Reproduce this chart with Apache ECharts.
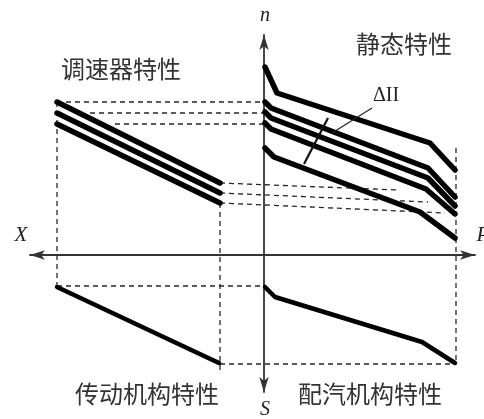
<!DOCTYPE html>
<html>
<head>
<meta charset="utf-8">
<script src="https://cdn.jsdelivr.net/npm/echarts@6/dist/echarts.min.js"></script>
<style>
  html, body { margin: 0; padding: 0; background: #fff; }
  #chart { width: 484px; height: 419px; }
</style>
</head>
<body>
<div id="chart"></div>
<script>
// Schematic units: origin at the crossing of the X-P and n-S axes.
// Quadrant II: governor characteristic (speed n against lever travel X)
const governorLines = [
  [[-207, 153], [-44, 72]],
  [[-207, 142], [-44, 62]],
  [[-207, 131], [-44, 52]]
];
// Quadrant I: static characteristic (speed n against power P)
const staticCurves = [
  [[1, 188], [13, 162], [166, 112], [191, 85]],
  [[1, 153], [7, 147], [164, 87], [191, 58]],
  [[1, 143], [7, 137], [164, 77], [191, 49]],
  [[1, 132], [7, 126], [162, 66], [191, 41]],
  [[1, 107], [10, 98], [156, 43], [191, 17]]
];
// Quadrant III: transmission mechanism characteristic (X against S)
const transmissionLine = [[-207, -32], [-45, -108]];
// Quadrant IV: steam distribution characteristic (S against P)
const valveCurve = [[1, -32], [11, -42], [158, -87], [191, -108]];

// Projection lines between the quadrants
const upperGuides = [
  [[-207, 153], [0, 153]],
  [[-174, 142], [0, 142]],
  [[-149, 131], [0, 131]]
];
const crossGuides = [
  [[-44, 72], [134, 65]],
  [[-44, 62], [164, 53]],
  [[-44, 52], [181, 42]]
];
const verticalGuides = [
  [[-207, 153], [-207, -32]],
  [[-44, 52], [-44, -117]],
  [[192, 107], [192, -109]]
];
const lowerGuides = [
  [[-207, -31], [0, -31]],
  [[-44, -109], [192, -109]]
];
// Speed-droop band marker and its leader
const deltaMarker = [[64, 137], [40, 91]];
const deltaLeader = [[68, 122], [108, 147]];

const axisRangeX = [-234, 211];
const axisRangeY = [-137, 220];

const cjkFont = '"Noto Sans CJK SC", "Noto Sans CJK JP", sans-serif';
const serifFont = '"Liberation Serif", "DejaVu Serif", serif';

function lineSeries(points, style, z) {
  return {
    type: 'line',
    data: points,
    showSymbol: false,
    symbol: 'none',
    silent: true,
    animation: false,
    z: z,
    lineStyle: style
  };
}

const dashStyle = { color: '#262626', width: 1.3, type: [5, 4] };
const thickStyle = { color: '#000', width: 5.5, join: 'round', cap: 'round' };

const series = [];
upperGuides.concat(crossGuides, verticalGuides, lowerGuides)
  .forEach(p => series.push(lineSeries(p, dashStyle, 2)));
governorLines.forEach(p => series.push(lineSeries(p, thickStyle, 5)));
staticCurves.forEach(p => series.push(lineSeries(p, thickStyle, 5)));
series.push(lineSeries(transmissionLine, Object.assign({}, thickStyle, { width: 4.5 }), 5));
series.push(lineSeries(valveCurve, Object.assign({}, thickStyle, { width: 4.5 }), 5));
series.push(lineSeries(deltaMarker, { color: '#111', width: 2.2 }, 6));
series.push(lineSeries(deltaLeader, { color: '#222', width: 1.2 }, 6));

const axisCommon = {
  type: 'value',
  axisTick: { show: false },
  axisLabel: { show: false },
  splitLine: { show: false },
  axisLine: {
    show: true,
    onZero: true,
    symbol: ['arrow', 'arrow'],
    symbolSize: [7, 15],
    lineStyle: { color: '#333', width: 1.8 }
  }
};

function label(text, x, y, font, color) {
  return {
    type: 'text',
    x: x, y: y,
    silent: true,
    style: { text: text, font: font, fill: color || '#222', align: 'center', verticalAlign: 'middle' }
  };
}

const chart = echarts.init(document.getElementById('chart'), null, { renderer: 'canvas' });
chart.setOption({
  animation: false,
  backgroundColor: '#fff',
  grid: { left: 30, right: 9, top: 35, bottom: 27 },
  xAxis: Object.assign({}, axisCommon, { min: axisRangeX[0], max: axisRangeX[1] }),
  yAxis: Object.assign({}, axisCommon, { min: axisRangeY[0], max: axisRangeY[1] }),
  series: series,
  graphic: [
    label('调速器特性', 121, 69, '24px ' + cjkFont, '#333'),
    label('静态特性', 404, 44, '24px ' + cjkFont, '#333'),
    label('传动机构特性', 147, 394, '24px ' + cjkFont, '#333'),
    label('配汽机构特性', 370, 394, '24px ' + cjkFont, '#333'),
    label('ΔII', 386, 96, '20px ' + serifFont, '#222'),
    label('n', 265, 16, 'italic 20px ' + serifFont, '#222'),
    label('S', 265, 410, 'italic 20px ' + serifFont, '#222'),
    label('X', 21, 235, 'italic 21px ' + serifFont, '#222'),
    label('P', 483, 235, 'italic 21px ' + serifFont, '#222')
  ]
});
</script>
</body>
</html>
